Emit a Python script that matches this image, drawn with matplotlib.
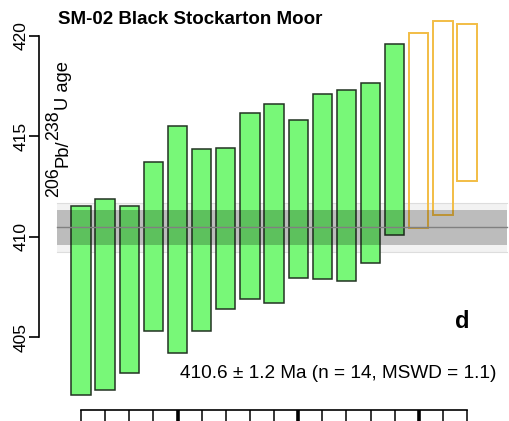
import numpy as np
import matplotlib.pyplot as plt
from matplotlib.patches import Rectangle

plt.rcParams['font.family'] = ['Liberation Sans', 'DejaVu Sans']

# 206Pb/238U ages, 2-sigma ranges (Ma)
used_lo = [402.13, 402.38, 403.23, 405.33, 404.21, 405.33, 406.41,
           406.93, 406.72, 407.94, 407.89, 407.80, 408.68, 410.09]
used_hi = [411.53, 411.86, 411.53, 413.73, 415.51, 414.35, 414.43,
           416.14, 416.62, 415.79, 417.12, 417.30, 417.65, 419.57]
rej_lo = [410.42, 411.08, 412.77]
rej_hi = [420.15, 420.73, 420.58]

wmean = 410.47
err_in = 0.87
err_out = 1.22
stats_label = '410.6 \u00b1 1.2 Ma (n = 14, MSWD = 1.1)'
title = 'SM-02 Black Stockarton Moor'

W, H = 510, 421
fig = plt.figure(figsize=(W / 100, H / 100), dpi=100)
# axes placed so the left spine sits at x=39 px and bottom spine at y=410 px
ax = fig.add_axes([39 / W, (H - 410) / H, (W - 39) / W, 410 / H])
ax.set_xlim(-0.741, 18.78)
ax.set_ylim(401.39, 421.78)

bw = 0.8
n_used = len(used_lo)
for i, (lo, hi) in enumerate(zip(used_lo, used_hi)):
    ax.add_patch(Rectangle((i + 1 - bw / 2, lo), bw, hi - lo, facecolor='#78f878',
                           edgecolor='#223322', lw=1.1, zorder=2))
for j, (lo, hi) in enumerate(zip(rej_lo, rej_hi)):
    x = n_used + j + 1
    ax.add_patch(Rectangle((x - bw / 2, lo), bw, hi - lo, facecolor='none',
                           edgecolor='#f2bd45', lw=1.4, zorder=2))

# weighted mean bands
x0, x1 = 0.0, 18.65
ax.fill_between([x0, x1], wmean - err_out, wmean + err_out, color='#000000',
                alpha=0.05, lw=0, zorder=1)
ax.plot([x0, x1], [wmean + err_out] * 2, color='#dddddd', lw=0.8, zorder=1)
ax.plot([x0, x1], [wmean - err_out] * 2, color='#dddddd', lw=0.8, zorder=1)
ax.fill_between([x0, x1], wmean - err_in, wmean + err_in, color='#000000',
                alpha=0.22, lw=0, zorder=3)
ax.plot([x0, x1], [wmean, wmean], color='#808080', lw=1.0, zorder=4)

for s in ['top', 'right']:
    ax.spines[s].set_visible(False)
ax.spines['left'].set_bounds(405, 420)
ax.spines['bottom'].set_bounds(1, 17)
ax.spines['left'].set_linewidth(1.2)
ax.spines['bottom'].set_linewidth(1.2)

ax.set_yticks([405, 410, 415, 420])
ax.set_yticklabels(['405', '410', '415', '420'], rotation=90, va='center', fontsize=12.5)
ax.tick_params(axis='y', length=7, width=1.2, pad=0.5)

ax.set_xticks([5, 10, 15])
ax.set_xticks(range(1, 18), minor=True)
ax.set_xticklabels([])
ax.tick_params(axis='x', which='major', length=9, width=2.6)
ax.tick_params(axis='x', which='minor', length=9, width=1.1)

fig.text(58 / W, 1 - 19.5 / H, title, fontsize=13.5, fontweight='bold',
         ha='left', va='center')
fig.text(496 / W, 1 - 374 / H, stats_label, fontsize=13.7, ha='right', va='center')
fig.text(462 / W, 1 - 322 / H, 'd', fontsize=17, fontweight='bold',
         ha='center', va='center')

# y label built piece by piece: 206Pb/238U age with near full-size superscripts
renderer = fig.canvas.get_renderer()
main_fs, sup_fs = 13.2, 12.8
base_x, sup_x = 68, 58
y_px = 197
for txt, is_sup in [('206', True), ('Pb/', False), ('238', True), ('U age', False)]:
    t = fig.text((sup_x if is_sup else base_x) / W, 1 - y_px / H, txt,
                 fontsize=sup_fs if is_sup else main_fs, rotation=90,
                 rotation_mode='anchor', ha='left', va='baseline')
    bb = t.get_window_extent(renderer)
    y_px -= bb.height

fig.savefig('out.png', dpi=100)
